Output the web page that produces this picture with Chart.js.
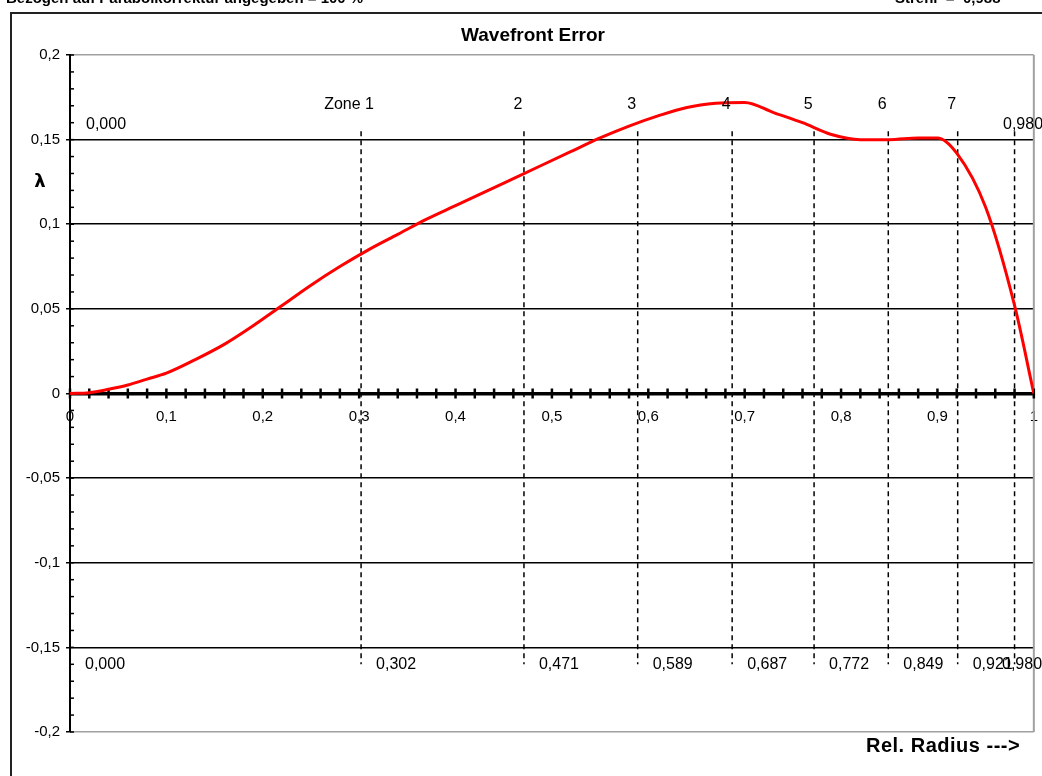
<!DOCTYPE html>
<html>
<head>
<meta charset="utf-8">
<script src="https://cdn.jsdelivr.net/npm/chart.js@4.4.1/dist/chart.umd.min.js"></script>
<style>
  html, body { margin: 0; padding: 0; background: #fff; }
  #wrap { width: 1042px; height: 776px; }
</style>
</head>
<body>
<div id="wrap"><canvas id="wfChart" width="1042" height="776"></canvas></div>
<script>
// relative radius / wavefront error (in lambda)
const radius = [0, 0.02, 0.04, 0.06, 0.08, 0.10, 0.13, 0.16, 0.19, 0.22, 0.25, 0.28, 0.31, 0.34, 0.37,
                0.40, 0.43, 0.46, 0.49, 0.52, 0.55, 0.58, 0.61, 0.64, 0.67, 0.70, 0.73, 0.76, 0.79,
                0.82, 0.85, 0.88, 0.90, 0.92, 0.95, 0.98, 1.00];
const wavefront = [0, 0.0005, 0.0025, 0.005, 0.0085, 0.012, 0.020, 0.029, 0.040, 0.052, 0.064, 0.075, 0.085, 0.094, 0.103,
                   0.111, 0.119, 0.127, 0.135, 0.143, 0.151, 0.158, 0.164, 0.169, 0.1715, 0.172, 0.166, 0.160, 0.153,
                   0.150, 0.150, 0.151, 0.151, 0.142, 0.110, 0.052, 0];

// zone boundaries
const zoneEdges = [0, 0.302, 0.471, 0.589, 0.687, 0.772, 0.849, 0.921, 0.980];
const zoneNames = ['Zone 1', '2', '3', '4', '5', '6', '7'];
const dashTop = 0.155;
const dashBottom = -0.16;

const yMin = -0.2, yMax = 0.2, yStep = 0.05;
const xStep = 0.02;

const fmt = v => String(Math.round(v * 100) / 100).replace('.', ',');
const fmt3 = v => v.toFixed(3).replace('.', ',');

// dashed zone lines
const zoneSets = zoneEdges.slice(1).map(b => ({
    data: [{ x: b, y: dashTop }, { x: b, y: dashBottom }],
    borderColor: '#000',
    borderWidth: 1.5,
    borderDash: [5, 4],
    pointRadius: 0,
    order: 2
}));

const decor = {
    id: 'decor',
    beforeDatasetsDraw(chart) {
        const ctx = chart.ctx;
        const xs = chart.scales.x, ys = chart.scales.y;
        const area = chart.chartArea;
        ctx.save();
        // right border of plot
        ctx.strokeStyle = '#a0a0a0';
        ctx.lineWidth = 2;
        ctx.beginPath();
        ctx.moveTo(area.right, area.top);
        ctx.lineTo(area.right, area.bottom);
        ctx.stroke();
        // small y ticks every 0.01, inside
        ctx.strokeStyle = '#000';
        ctx.lineWidth = 1.5;
        for (let i = -20; i <= 20; i++) {
            const y = ys.getPixelForValue(i / 100);
            ctx.beginPath();
            ctx.moveTo(area.left, y);
            ctx.lineTo(area.left + 4, y);
            ctx.stroke();
        }
        // x ticks crossing the zero line
        const y0 = ys.getPixelForValue(0);
        ctx.lineWidth = 2.5;
        xs.ticks.forEach(t => {
            const x = xs.getPixelForValue(t.value);
            ctx.beginPath();
            ctx.moveTo(x, y0 - 5);
            ctx.lineTo(x, y0 + 5);
            ctx.stroke();
        });
        ctx.restore();
    },
    afterDraw(chart) {
        const ctx = chart.ctx;
        const xs = chart.scales.x, ys = chart.scales.y;
        ctx.save();
        // outer frame
        ctx.strokeStyle = '#222';
        ctx.lineWidth = 2;
        ctx.beginPath();
        ctx.moveTo(11, 776);
        ctx.lineTo(11, 13);
        ctx.lineTo(1042, 13);
        ctx.stroke();

        ctx.fillStyle = '#000';
        // header text cut off at the top
        ctx.font = 'bold 15px "Liberation Sans"';
        ctx.textAlign = 'left';
        ctx.textBaseline = 'alphabetic';
        ctx.fillText('Bezogen auf Parabolkorrektur angegeben = 100 %', 6, 3);
        ctx.fillText('Strehl  =  0,988', 895, 3);

        // title
        ctx.font = 'bold 19px "Liberation Sans"';
        ctx.textAlign = 'center';
        ctx.textBaseline = 'middle';
        ctx.fillText('Wavefront Error', 533, 36);

        // lambda
        ctx.font = 'bold 18px "DejaVu Sans"';
        ctx.fillText('λ', 40, 182);

        // axis title
        ctx.font = 'bold 20px "Liberation Sans"';
        ctx.letterSpacing = '0.5px';
        ctx.textAlign = 'left';
        ctx.fillText('Rel. Radius --->', 866, 746);
        ctx.letterSpacing = '0px';

        // zone labels
        ctx.font = '16px "Liberation Sans"';
        ctx.textAlign = 'center';
        const yTopLab = ys.getPixelForValue(dashTop) - 27;
        zoneNames.forEach((n, i) => {
            const x = xs.getPixelForValue(zoneEdges[i + 1]) - (i === 0 ? 12 : 6);
            ctx.fillText(n, x, yTopLab);
        });

        // boundary values
        ctx.textAlign = 'left';
        const yTopVal = ys.getPixelForValue(dashTop) - 7;
        const first = zoneEdges[0], last = zoneEdges[zoneEdges.length - 1];
        ctx.fillText(fmt3(first), xs.getPixelForValue(first) + 16, yTopVal);
        ctx.fillText(fmt3(last), Math.min(xs.getPixelForValue(last) + 15, 1003), yTopVal);
        const yBotVal = ys.getPixelForValue(dashBottom);
        zoneEdges.forEach(b => {
            const x = Math.min(xs.getPixelForValue(b) + 15, 1002);
            ctx.fillText(fmt3(b), x, yBotVal);
        });
        ctx.restore();
    }
};

new Chart(document.getElementById('wfChart'), {
    type: 'line',
    data: {
        datasets: [{
            data: radius.map((r, i) => ({ x: r, y: wavefront[i] })),
            borderColor: '#ff0000',
            borderWidth: 3,
            pointRadius: 0,
            cubicInterpolationMode: 'monotone',
            order: 0
        }].concat(zoneSets)
    },
    options: {
        responsive: false,
        animation: false,
        layout: { autoPadding: false, padding: { left: 10, top: 55, right: 8, bottom: 44 } },
        plugins: {
            legend: { display: false },
            tooltip: { enabled: false },
            title: { display: false }
        },
        scales: {
            x: {
                type: 'linear',
                min: 0,
                max: 1,
                position: { y: 0 },
                afterFit: s => { s.height = 0; },
                grid: { display: false, drawTicks: true, tickLength: 10 },
                border: { display: false },
                ticks: {
                    stepSize: xStep,
                    autoSkip: false,
                    maxRotation: 0,
                    padding: 4,
                    color: '#000',
                    font: { family: 'Liberation Sans', size: 15 },
                    callback: v => (Math.abs(v * 10 - Math.round(v * 10)) < 1e-6 ? fmt(v) : '')
                }
            },
            y: {
                min: yMin,
                max: yMax,
                afterFit: s => { s.width = 60; },
                border: { display: true, color: '#000', width: 2 },
                grid: {
                    color: c => (Math.abs(Math.abs(c.tick.value) - 0.2) < 1e-6 ? '#a0a0a0' : '#000'),
                    lineWidth: c => (Math.abs(c.tick.value) < 1e-6 ? 3.5 : 1.5),
                    tickLength: 4,
                    tickColor: '#000',
                    tickWidth: 1.5
                },
                ticks: {
                    stepSize: yStep,
                    padding: 6,
                    color: '#000',
                    font: { family: 'Liberation Sans', size: 15 },
                    callback: v => fmt(v)
                }
            }
        }
    },
    plugins: [decor]
});
</script>
</body>
</html>
